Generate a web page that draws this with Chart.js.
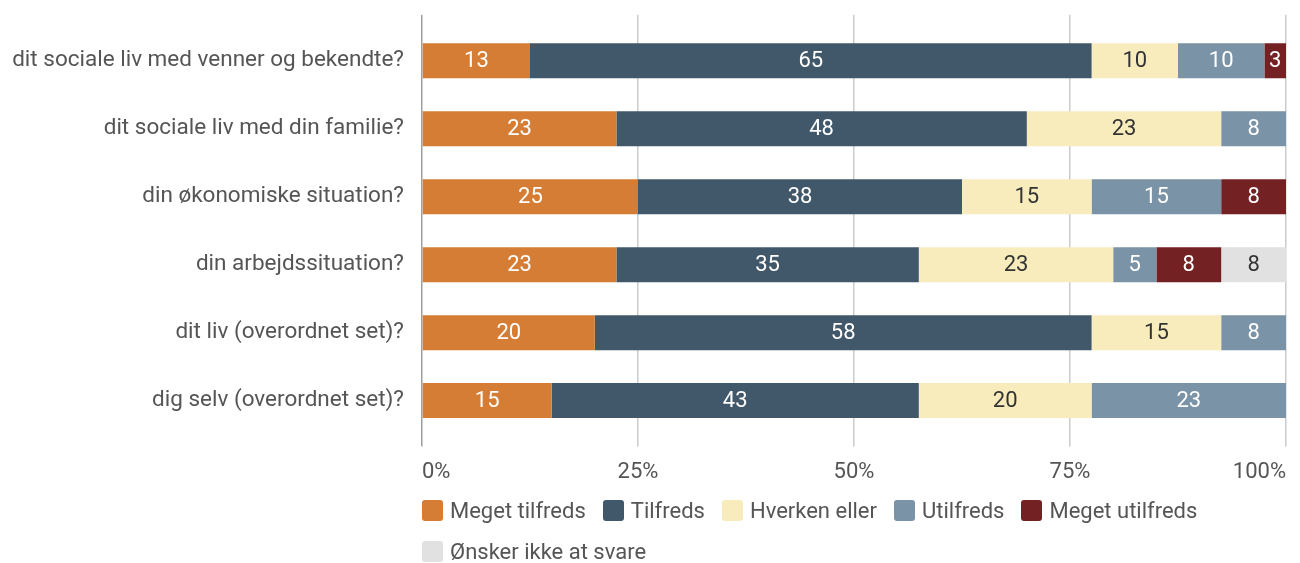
<!DOCTYPE html>
<html>
<head>
<meta charset="utf-8">
<script src="https://cdn.jsdelivr.net/npm/chart.js@4/dist/chart.umd.min.js"></script>
<style>
    body { margin: 0; background: #fff; }
    #wrap { position: relative; width: 1300px; height: 563px; }
    #legend { position: absolute; top: 497px; display: flex; flex-wrap: wrap; row-gap: 15px;
              font: 22px Roboto, sans-serif; color: #555; }
    #legend .item { display: flex; align-items: center; margin-right: 17px; height: 26px; white-space: nowrap; }
    #legend .box { width: 21px; height: 21px; border-radius: 3px; margin-right: 7px; }
</style>
</head>
<body>
<div id="wrap">
    <canvas id="barchart" width="1300" height="563"></canvas>
    <div id="legend"></div>
</div>
<script>
// data
var questions = ['dit sociale liv med venner og bekendte?', 'dit sociale liv med din familie?', 'din økonomiske situation?',
    'din arbejdssituation?', 'dit liv (overordnet set)?', 'dig selv (overordnet set)?'];
var answers = ['Meget tilfreds', 'Tilfreds', 'Hverken eller', 'Utilfreds', 'Meget utilfreds', 'Ønsker ikke at svare'];
var megetTilfreds = [12.5, 22.5, 25, 22.5, 20, 15];
var tilfreds = [65, 47.5, 37.5, 35, 57.5, 42.5];
var hverkenEller = [10, 22.5, 15, 22.5, 15, 20];
var utilfreds = [10, 7.5, 15, 5, 7.5, 22.5];
var megetUtilfreds = [2.5, null, 7.5, 7.5, null, null];
var oenskerIkke = [null, null, null, 7.5, null, null];
var xTicks = [0, 25, 50, 75, 100];

var colors = ["#d57d34", "#41586a", "#f8ebbc", "#7b93a6", "#742124", "#e1e1e1"];
var labelColors = ["#fff", "#fff", "#333", "#fff", "#fff", "#333"];
var series = [megetTilfreds, tilfreds, hverkenEller, utilfreds, megetUtilfreds, oenskerIkke];

// labels inside the bars
var barLabels = {
    id: 'barLabels',
    afterDatasetsDraw: function (chart) {
        var ctx = chart.ctx;
        ctx.save();
        ctx.font = '22px Roboto, sans-serif';
        ctx.textAlign = 'center';
        ctx.textBaseline = 'middle';
        chart.data.datasets.forEach(function (ds, i) {
            var meta = chart.getDatasetMeta(i);
            meta.data.forEach(function (bar, j) {
                var v = ds.data[j];
                if (!v) return;
                var p = bar.getProps(['x', 'y', 'base'], true);
                ctx.fillStyle = labelColors[i];
                ctx.fillText(Math.round(v), (p.x + p.base) / 2, p.y + 1);
            });
        });
        ctx.restore();
    }
};

function gridColor(c) {
    return c.tick && c.tick.value === 0 ? '#9e9e9e' : '#cccccc';
}

// Stacked horizontal bar chart
var chart1 = document.getElementById('barchart');
var myChart1 = new Chart(chart1, {
    type: 'bar',
    data: {
        labels: questions,
        datasets: series.map(function (d, i) {
            return {
                label: answers[i],
                data: d,
                backgroundColor: colors[i],
                borderWidth: 0,
                barPercentage: 0.515,
                categoryPercentage: 1
            };
        })
    },
    options: {
        indexAxis: 'y',
        responsive: false,
        animation: false,
        layout: {
            padding: { top: 14.8, right: 14, bottom: 64, left: 0 }
        },
        scales: {
            x: {
                stacked: true,
                min: 0,
                max: 100,
                afterBuildTicks: function (axis) {
                    axis.ticks = xTicks.map(function (v) { return { value: v }; });
                },
                grid: { color: gridColor, tickLength: 12, lineWidth: 1.5 },
                border: { display: false },
                ticks: {
                    align: 'inner',
                    padding: 13,
                    color: '#555',
                    font: { family: 'Roboto', size: 22 },
                    callback: function (v) { return v + '%'; }
                }
            },
            x2: {
                position: 'top',
                min: 0,
                max: 100,
                afterBuildTicks: function (axis) {
                    axis.ticks = xTicks.map(function (v) { return { value: v }; });
                },
                grid: { color: gridColor, tickLength: 12, lineWidth: 1.5, drawOnChartArea: false },
                border: { display: false },
                ticks: { display: false }
            },
            y: {
                stacked: true,
                afterFit: function (axis) { axis.width = 422; },
                grid: { display: false },
                border: { display: false },
                ticks: {
                    padding: 10,
                    color: '#555',
                    font: { family: 'Roboto', size: 22.5 }
                }
            }
        },
        plugins: {
            legend: { display: false },
            tooltip: { enabled: false },
            title: { display: false }
        }
    },
    plugins: [barLabels]
});

// legend below the plot, lined up with the axis
var legend = document.getElementById('legend');
legend.style.left = myChart1.chartArea.left + 'px';
legend.style.width = (1300 - myChart1.chartArea.left) + 'px';
myChart1.data.datasets.forEach(function (ds) {
    var item = document.createElement('div');
    item.className = 'item';
    var box = document.createElement('span');
    box.className = 'box';
    box.style.background = ds.backgroundColor;
    item.appendChild(box);
    item.appendChild(document.createTextNode(ds.label));
    legend.appendChild(item);
});
</script>
</body>
</html>
